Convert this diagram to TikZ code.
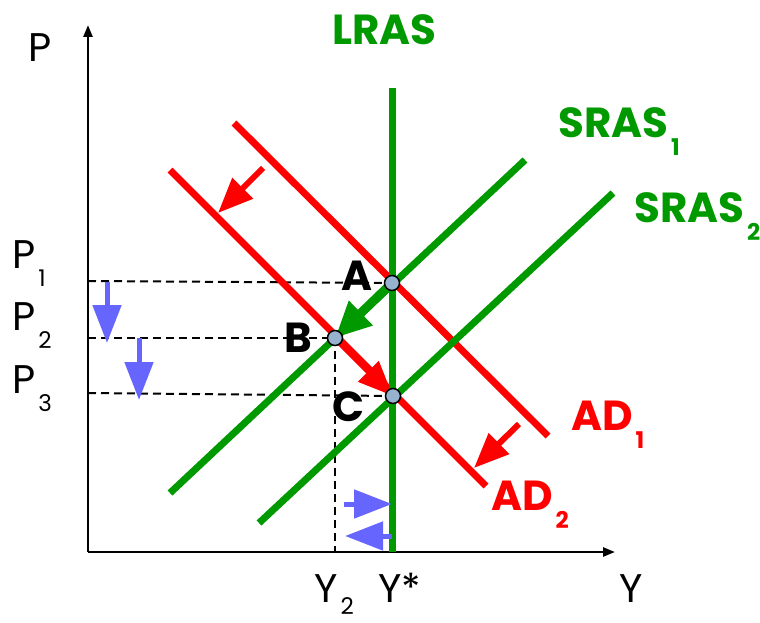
\documentclass[tikz,border=0pt]{standalone}
\usepackage{fontspec}
\setmainfont{Poppins}
\usetikzlibrary{arrows.meta}
\definecolor{grn}{RGB}{0,153,0}
\definecolor{rd}{RGB}{255,0,0}
\definecolor{blu}{RGB}{102,102,255}
\definecolor{dotc}{RGB}{150,178,206}
\newcommand{\sbs}[2][18pt]{\kern3pt\raisebox{-#1}{\fontsize{23}{23}\selectfont #2}}
\begin{document}
\begin{tikzpicture}[x=1pt,y=-1pt,
  axisline/.style={line width=2.5pt,-{Triangle[length=12pt,width=9pt]}},
  curve/.style={line width=7pt},
  guide/.style={line width=2pt,dash pattern=on 8pt off 5pt},
  fatarrow/.style={line width=6pt,-{Triangle[length=35pt,width=28pt]}},
  bluearrow/.style={blu,line width=5pt,-{Triangle[length=38pt,width=28pt]}},
  eqdot/.style={circle,draw=black,line width=1.5pt,fill=dotc,minimum size=15pt,inner sep=0pt},
  lbl/.style={inner sep=0pt,anchor=base west,font=\fontsize{40}{40}\selectfont},
  blbl/.style={inner sep=0pt,anchor=base west,font=\fontsize{42}{42}\selectfont\bfseries}]
\useasboundingbox (0,0) rectangle (760,623);
% axes
\coordinate (O) at (88,552);
\coordinate (Ytop) at (88,25);
\coordinate (Xend) at (615,552);
\draw[axisline] (O) -- (Ytop);
\draw[axisline] (O) -- (Xend);
% equilibrium points
\coordinate (A) at (392,283);
\coordinate (B) at (335,338);
\coordinate (C) at (393,396);
% guide lines
\coordinate (P1) at (88,281);
\coordinate (P2) at (88,338);
\coordinate (P3) at (88,393);
\coordinate (Y2) at (335,552);
\draw[guide] (P1) -- (A);
\draw[guide] (P2) -- (B);
\draw[guide] (P3) -- (C);
\draw[guide] (B) -- (Y2);
% curves
\coordinate (lrasT) at (392,88);
\coordinate (lrasB) at (392,552);
\coordinate (s1a) at (170,493);
\coordinate (s1b) at (525,160);
\coordinate (s2a) at (259,523);
\coordinate (s2b) at (613,193);
\coordinate (d1a) at (234,123);
\coordinate (d1b) at (548,436);
\coordinate (d2a) at (170,170);
\coordinate (d2b) at (486,486);
\draw[curve,rd] (d1a) -- (d1b);
\draw[curve,rd] (d2a) -- (d2b);
\draw[curve,grn] (s1a) -- (s1b);
\draw[curve,grn] (s2a) -- (s2b);
\draw[curve,grn] (lrasT) -- (lrasB);
% shift arrows
\coordinate (r1t) at (263,168);
\coordinate (r1h) at (218,213);
\coordinate (r2t) at (519,424);
\coordinate (r2h) at (474,468);
\draw[fatarrow,rd] (r1t) -- (r1h);
\draw[fatarrow,rd] (r2t) -- (r2h);
\draw[fatarrow,grn,line width=9pt,-{Triangle[length=36pt,width=32pt]}] (A) -- (B);
\draw[fatarrow,rd] (B) -- (C);
% blue arrows
\coordinate (b1t) at (107,282);
\coordinate (b1h) at (107,343);
\coordinate (b2t) at (139,338);
\coordinate (b2h) at (139,400);
\coordinate (b3t) at (344,504);
\coordinate (b3h) at (392,504);
\coordinate (b4t) at (392,536);
\coordinate (b4h) at (345,536);
\draw[bluearrow] (b1t) -- (b1h);
\draw[bluearrow] (b2t) -- (b2h);
\draw[bluearrow] (b3t) -- (b3h);
\draw[bluearrow] (b4t) -- (b4h);
% dots
\node[eqdot] (dA) at (A) {};
\node[eqdot] (dB) at (B) {};
\node[eqdot] (dC) at (C) {};
% labels
\node[lbl] (lP) at (28,62) {P};
\node[lbl] (lP1) at (12,268) {P\sbs{1}};
\node[lbl] (lP2) at (12,330) {P\sbs{2}};
\node[lbl] (lP3) at (12,393) {P\sbs{3}};
\node[lbl] (lY2) at (314,602) {Y\sbs[12pt]{2}};
\node[lbl] (lYs) at (378,602) {Y*};
\node[lbl] (lY) at (619,602) {Y};
\node[blbl] (lA) at (341,290) {A};
\node[blbl] (lB) at (284,352) {B};
\node[blbl] (lC) at (332,421) {C};
\node[blbl,grn] (lLRAS) at (332,45) {LRAS};
\node[blbl,grn] (lS1) at (558,138) {SRAS\sbs{1}};
\node[blbl,grn] (lS2) at (634,222) {SRAS\sbs{2}};
\node[blbl,rd] (lD1) at (571,430) {AD\sbs{1}};
\node[blbl,rd] (lD2) at (491,510) {AD\sbs{2}};
\end{tikzpicture}
\end{document}
